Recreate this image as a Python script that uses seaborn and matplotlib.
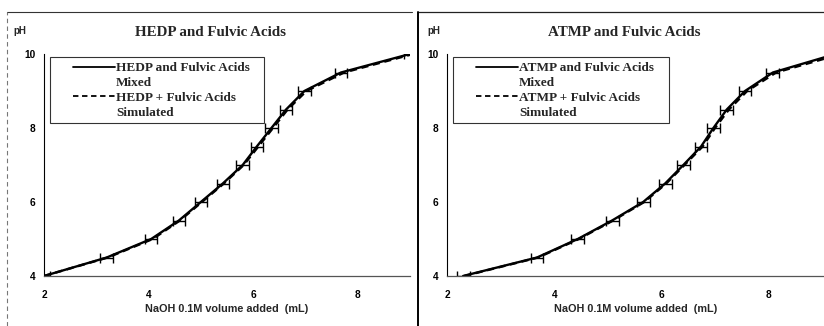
"""Titration curves: HEDP / ATMP with fulvic acids, mixed vs simulated."""
import numpy as np
import pandas as pd
import matplotlib.pyplot as plt
import seaborn as sns
from matplotlib.lines import Line2D
from matplotlib.legend_handler import HandlerLine2D

# pH levels at which volume was read (same for all series)
ph_levels = [4.0, 4.5, 5.0, 5.5, 6.0, 6.5, 7.0, 7.5, 8.0, 8.5, 9.0, 9.5, 10.0]

# HEDP panel, NaOH volume (mL)
hedp_mixed = [2.0, 3.2, 4.05, 4.58, 5.0, 5.42, 5.8, 6.07, 6.35, 6.63, 6.98, 7.68, 9.0]
hedp_sim = [2.0, 3.22, 4.08, 4.6, 5.02, 5.44, 5.82, 6.1, 6.38, 6.66, 7.02, 7.74, 9.06]

# ATMP panel, NaOH volume (mL)
atmp_mixed = [2.3, 3.68, 4.44, 5.08, 5.66, 6.07, 6.41, 6.74, 6.97, 7.22, 7.56, 8.08, 9.25]
atmp_sim = [2.32, 3.7, 4.46, 5.1, 5.68, 6.09, 6.43, 6.77, 7.0, 7.26, 7.6, 8.14, 9.35]

vol_err = 0.12

panels = [
    ("HEDP and Fulvic Acids", "HEDP", hedp_mixed, hedp_sim),
    ("ATMP and Fulvic Acids", "ATMP", atmp_mixed, atmp_sim),
]

sns.set_style("white")
plt.rcParams["font.family"] = ["Liberation Sans", "DejaVu Sans"]

fig = plt.figure(figsize=(8.24, 3.26), dpi=100)
W, H = 824, 326


def px_axes(x0, x1, ytop, ybot):
    return fig.add_axes([x0 / W, 1 - ybot / H, (x1 - x0) / W, (ybot - ytop) / H])


axes = [px_axes(44, 410, 54, 276), px_axes(447, 824, 54, 276)]
xlims = [(2, 9), (2, 2 + (824 - 447) / 53.6)]
title_x = [0.456, 0.469]
ph_x = [-0.066, -0.034]

for ax, (title, acid, mixed, sim), xl, tx, phx in zip(axes, panels, xlims, title_x, ph_x):
    df = pd.DataFrame({
        "vol": mixed + sim,
        "pH": ph_levels + ph_levels,
        "kind": ["Mixed"] * len(mixed) + ["Simulated"] * len(sim),
    })
    sns.lineplot(data=df, x="vol", y="pH", style="kind", color="black",
                 dashes={"Mixed": "", "Simulated": (3, 2)}, linewidth=1.7,
                 sort=False, estimator=None, ax=ax, legend=False)
    ax.errorbar(mixed, ph_levels, xerr=vol_err, fmt="none", ecolor="black",
                elinewidth=1.0, capsize=3.5, capthick=1.0)

    ax.set_xlim(*xl)
    ax.set_ylim(4, 10)
    ax.set_xticks([2, 4, 6, 8])
    ax.set_yticks([4, 6, 8, 10])
    ax.set_xlabel("NaOH 0.1M volume added  (mL)", fontsize=7.8, fontweight="bold", labelpad=3)
    ax.set_ylabel("")
    for lab in ax.get_xticklabels() + ax.get_yticklabels():
        lab.set_fontweight("bold")
    ax.tick_params(axis="both", labelsize=7.3, direction="inout", length=4, width=0.8,
                   colors="black", pad=4)
    ax.tick_params(axis="x", pad=8)
    for s in ["top", "right"]:
        ax.spines[s].set_visible(False)
    ax.spines["left"].set_color("black")
    ax.spines["left"].set_linewidth(0.8)
    ax.spines["bottom"].set_color("#555555")
    ax.spines["bottom"].set_linewidth(0.9)

    ax.text(tx, 1.095, title, transform=ax.transAxes, ha="center", va="center",
            fontsize=10.8, fontweight="bold", family="Liberation Serif")
    ax.text(phx, 1.105, "pH", transform=ax.transAxes, ha="center", va="center",
            fontsize=7, fontweight="bold")

    handles = [
        Line2D([], [], color="black", lw=1.3),
        Line2D([], [], color="none"),
        Line2D([], [], color="black", lw=1.3, ls=(0, (3, 2))),
        Line2D([], [], color="none"),
    ]
    labels = [f"{acid} and Fulvic Acids   ", "Mixed", f"{acid} + Fulvic Acids   ", "Simulated"]
    leg = ax.legend(handles, labels, loc="upper left", bbox_to_anchor=(0.016, 0.985),
                    borderaxespad=0, frameon=True, fancybox=False, handlelength=4.6,
                    handletextpad=0.05, labelspacing=0.2, borderpad=0.35,
                    handler_map={Line2D: HandlerLine2D(xpad=1.4)},
                    prop={"family": "Liberation Serif", "weight": "bold", "size": 9.5})
    leg.get_frame().set_edgecolor("black")
    leg.get_frame().set_linewidth(0.8)

# scanned panel frames
fig.add_artist(Line2D([7 / W, 412 / W], [1 - 12 / H, 1 - 12 / H], color="#333333", lw=0.8))
fig.add_artist(Line2D([7 / W, 7 / W], [0, 1 - 12 / H], color="#777777", lw=0.8, ls=(0, (4, 3))))
fig.add_artist(Line2D([418 / W, 824 / W], [1 - 12 / H, 1 - 12 / H], color="#222222", lw=0.9))
fig.add_artist(Line2D([418 / W, 418 / W], [0, 1 - 12 / H], color="black", lw=1.4))

fig.savefig("out.png", dpi=100)
